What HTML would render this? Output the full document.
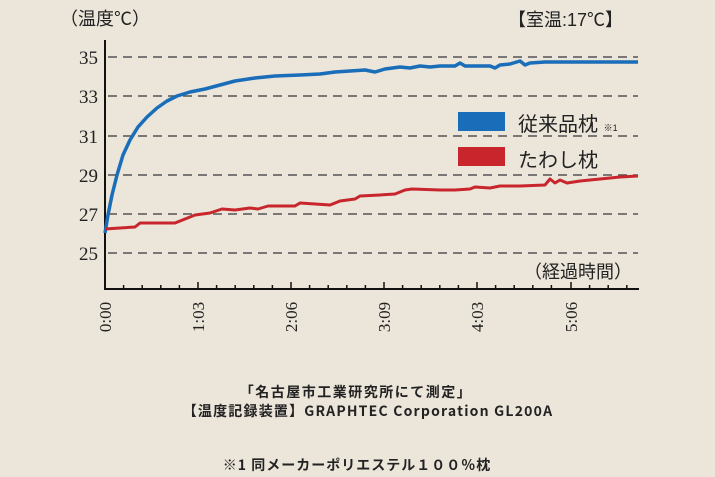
<!DOCTYPE html>
<html><head><meta charset="utf-8"><style>
html,body{margin:0;padding:0}
body{width:715px;height:477px;background:#ebe5da;overflow:hidden;position:relative;font-family:"Liberation Sans","Noto Sans CJK JP",sans-serif}
.t{position:absolute;white-space:nowrap;color:#222}
.c{position:absolute;white-space:nowrap;color:#222;font-size:14px;font-weight:bold;font-family:"Noto Sans CJK JP",sans-serif;text-align:center;line-height:16px}
</style></head><body>
<svg width="715" height="477" style="position:absolute;left:0;top:0">
<g stroke="#555" stroke-width="1.5" stroke-dasharray="9,6">
<line x1="108" y1="57" x2="638" y2="57"/>
<line x1="108" y1="96" x2="638" y2="96"/>
<line x1="108" y1="136" x2="638" y2="136"/>
<line x1="108" y1="175" x2="638" y2="175"/>
<line x1="108" y1="214" x2="638" y2="214"/>
<line x1="108" y1="253" x2="638" y2="253"/>
</g>
<line x1="105" y1="40" x2="105" y2="290" stroke="#111" stroke-width="2"/>
<line x1="104" y1="289" x2="639" y2="289" stroke="#111" stroke-width="2"/>
<g stroke="#111" stroke-width="1.5">
<line x1="198" y1="282" x2="198" y2="289"/><line x1="291" y1="282" x2="291" y2="289"/><line x1="384" y1="282" x2="384" y2="289"/><line x1="477" y1="282" x2="477" y2="289"/><line x1="571" y1="282" x2="571" y2="289"/>
<line x1="123.6" y1="285" x2="123.6" y2="289"/><line x1="142.2" y1="285" x2="142.2" y2="289"/><line x1="160.8" y1="285" x2="160.8" y2="289"/><line x1="179.4" y1="285" x2="179.4" y2="289"/>
<line x1="216.6" y1="285" x2="216.6" y2="289"/><line x1="235.2" y1="285" x2="235.2" y2="289"/><line x1="253.8" y1="285" x2="253.8" y2="289"/><line x1="272.4" y1="285" x2="272.4" y2="289"/>
<line x1="309.6" y1="285" x2="309.6" y2="289"/><line x1="328.2" y1="285" x2="328.2" y2="289"/><line x1="346.8" y1="285" x2="346.8" y2="289"/><line x1="365.4" y1="285" x2="365.4" y2="289"/>
<line x1="402.6" y1="285" x2="402.6" y2="289"/><line x1="421.2" y1="285" x2="421.2" y2="289"/><line x1="439.8" y1="285" x2="439.8" y2="289"/><line x1="458.4" y1="285" x2="458.4" y2="289"/>
<line x1="495.6" y1="285" x2="495.6" y2="289"/><line x1="514.2" y1="285" x2="514.2" y2="289"/><line x1="532.8" y1="285" x2="532.8" y2="289"/><line x1="551.4" y1="285" x2="551.4" y2="289"/>
<line x1="589.6" y1="285" x2="589.6" y2="289"/><line x1="608.2" y1="285" x2="608.2" y2="289"/><line x1="626.8" y1="285" x2="626.8" y2="289"/>
</g>
<polyline fill="none" stroke="#1a6db8" stroke-width="3.5" stroke-linejoin="round" points="105,233 108,215 112,195 117,175 123,155 130,140 138,127 147,117 157,108 167,101 177,96 190,92 205,89 220,85 235,81 255,78 275,76 300,75 320,74 335,72 350,71 365,70 375,72 385,69 400,67 410,68 420,66 430,67 440,66 455,66 460,63 465,66 490,66 495,68 500,65 510,64 520,61 525,65 530,63 545,62 560,62 638,62"/>
<polyline fill="none" stroke="#c8262c" stroke-width="3" stroke-linejoin="round" points="105,229 120,228 135,227 140,223 175,223 185,219 195,215 210,213 222,209 235,210 250,208 258,209 268,206 295,206 300,203 315,204 330,205 340,201 355,199 360,196 380,195 395,194 405,190 412,189 440,190 455,190 470,189 475,187 490,188 500,186 520,186 545,185 550,179 555,183 560,180 567,183 580,181 600,179 620,177 638,176"/>
<rect x="458" y="112" width="47" height="19" fill="#1a6db8"/>
<rect x="458" y="147" width="47" height="19" fill="#c8262c"/>
<g font-family="Liberation Serif,serif" font-size="19" fill="#222" text-anchor="end">
<text x="98" y="64">35</text><text x="98" y="103">33</text><text x="98" y="143">31</text><text x="98" y="182">29</text><text x="98" y="221">27</text><text x="98" y="260">25</text>
</g>
<g font-family="Liberation Serif,serif" font-size="17" fill="#222" text-anchor="middle">
<text transform="translate(111,317) rotate(-90)">0:00</text>
<text transform="translate(204,317) rotate(-90)">1:03</text>
<text transform="translate(297,317) rotate(-90)">2:06</text>
<text transform="translate(390,317) rotate(-90)">3:09</text>
<text transform="translate(483,317) rotate(-90)">4:03</text>
<text transform="translate(577,317) rotate(-90)">5:06</text>
</g>
</svg>
<div class="t" style="left:60px;top:5px;font-size:18px">（温度℃）</div>
<div class="t" style="left:508px;top:6px;font-size:18px">【室温:17℃】</div>
<div class="t" style="left:518px;top:108px;font-size:20px">従来品枕 <span style="font-size:9px">※1</span></div>
<div class="t" style="left:518px;top:144px;font-size:20px">たわし枕</div>
<div class="t" style="left:524px;top:258px;font-size:18px">（経過時間）</div>
<div class="c" style="left:0;width:712px;top:384px;letter-spacing:1.5px">「名古屋市工業研究所にて測定」</div>
<div class="c" style="left:0;width:736px;top:403px;letter-spacing:1.2px">【温度記録装置】GRAPHTEC Corporation GL200A</div>
<div class="c" style="left:0;width:714px;top:457px;letter-spacing:1px">※1 同メーカーポリエステル１００％枕</div>
</body></html>
